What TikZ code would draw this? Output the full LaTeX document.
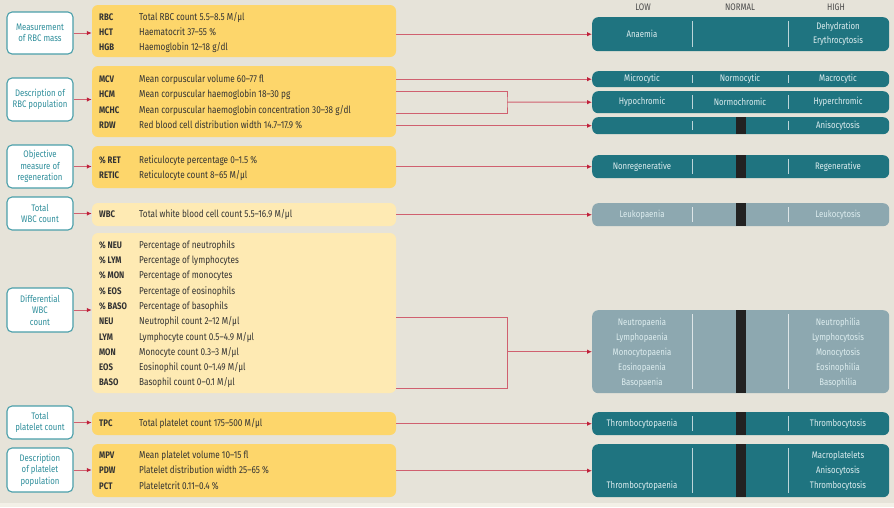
\documentclass[tikz,border=0pt]{standalone}
\usepackage{fontspec}
\setmainfont[FakeStretch=0.82]{Fira Sans}
\usetikzlibrary{arrows.meta}

\definecolor{paper}{HTML}{E6E3D9}
\definecolor{paperlight}{HTML}{F3F0E7}
\definecolor{labelteal}{HTML}{4A9FAA}
\definecolor{labeltext}{HTML}{2E8E9B}
\definecolor{gold}{HTML}{FDD66B}
\definecolor{paleyellow}{HTML}{FEEAB3}
\definecolor{resteal}{HTML}{1F7480}
\definecolor{resgrey}{HTML}{8DA8B0}
\definecolor{linkred}{HTML}{D0606F}
\definecolor{tipred}{HTML}{C0203A}
\definecolor{barblack}{HTML}{222222}
\definecolor{inkdark}{HTML}{333333}
\definecolor{headgrey}{HTML}{4A4A4A}
\definecolor{reswhite}{HTML}{DDEDEF}

\tikzset{
  labelbox/.style={draw=labelteal, line width=1.1pt, fill=white, rounded corners=5pt,
    text=labeltext, align=center, inner sep=0pt, minimum width=66pt,
    font=\fontsize{9.5}{11.5}\selectfont},
  databox/.style={fill=#1, rounded corners=6pt, minimum width=304pt, inner sep=0pt},
  resbox/.style={rounded corners=6pt, minimum width=297pt, inner sep=0pt},
  abbr/.style={anchor=west, inner sep=0pt, text height=7pt, text depth=0pt,
    text=inkdark, font=\fontsize{9.5}{11}\selectfont\bfseries},
  desc/.style={anchor=west, inner sep=0pt, text height=7pt, text depth=0pt,
    text=inkdark, font=\fontsize{10}{12}\selectfont},
  restext/.style={inner sep=0pt, align=center, text=reswhite,
    font=\fontsize{9.5}{15}\selectfont},
  head/.style={inner sep=0pt, text=headgrey, font=\fontsize{9.5}{11}\selectfont},
  divider/.style={draw=white, opacity=0.7, line width=0.8pt},
  linkline/.style={draw=linkred, line width=1pt},
  link/.style={linkline, -{Latex[length=5pt,width=4.5pt,color=tipred]}}
}

% name, top, bottom, colour
\newcommand{\resrow}[4]{%
  \node[resbox, fill=#4, minimum height=#3-#2, anchor=north west] (#1) at (592,#2) {};
  \draw[divider] (692,#2+4) -- (692,#3-4);
  \draw[divider] (788,#2+4) -- (788,#3-4);
}

\begin{document}
\begin{tikzpicture}[x=1pt, y=-1pt]
  \useasboundingbox (0,0) rectangle (894,507);
  \fill[paper] (0,0) rectangle (894,507);
  \fill[paperlight] (0,503) rectangle (894,507);

  % left labels
  \node[labelbox, minimum height=42pt] (massl) at (40,33) {Measurement\\of RBC mass};
  \node[labelbox, minimum height=43pt] (popl) at (40,99.5) {Description of\\RBC population};
  \node[labelbox, minimum height=43pt] (regenl) at (40,166.5) {Objective\\measure of\\regeneration};
  \node[labelbox, minimum height=33pt] (wbcl) at (40,213.5) {Total\\WBC count};
  \node[labelbox, minimum height=44pt] (diffl) at (40,310) {Differential\\WBC\\count};
  \node[labelbox, minimum height=33pt] (tpcl) at (40,422.5) {Total\\platelet count};
  \node[labelbox, minimum height=44pt] (pltl) at (40,470) {Description\\of platelet\\population};

  % measured values
  \node[databox=gold, minimum height=52pt] (rbcbox) at (244,31) {};
  \node[databox=gold, minimum height=71pt] (popbox) at (244,101.5) {};
  \node[databox=gold, minimum height=42pt] (regenbox) at (244,167) {};
  \node[databox=paleyellow, minimum height=23pt] (wbcbox) at (244,214.5) {};
  \node[databox=paleyellow, minimum height=160pt] (diffbox) at (244,313) {};
  \node[databox=gold, minimum height=23pt] (tpcbox) at (244,423.5) {};
  \node[databox=gold, minimum height=53pt] (pltbox) at (244,470.5) {};

  \foreach \n/\y/\ab/\txt in {
      rbc/17/RBC/{Total RBC count 5.5–8.5 M/µl},
      hct/32/HCT/{Haematocrit 37–55 \%},
      hgb/47/HGB/{Haemoglobin 12–18 g/dl},
      mcv/79/MCV/{Mean corpuscular volume 60–77 fl},
      hcm/94/HCM/{Mean corpuscular haemoglobin 18–30 pg},
      mchc/110/MCHC/{Mean corpuscular haemoglobin concentration 30–38 g/dl},
      rdw/125/RDW/{Red blood cell distribution width 14.7–17.9 \%},
      pret/160/{\% RET}/{Reticulocyte percentage 0–1.5 \%},
      retic/175/RETIC/{Reticulocyte count 8–65 M/µl},
      wbc/214/WBC/{Total white blood cell count 5.5–16.9 M/µl},
      pneu/245/{\% NEU}/{Percentage of neutrophils},
      plym/260/{\% LYM}/{Percentage of lymphocytes},
      pmon/275/{\% MON}/{Percentage of monocytes},
      peos/291/{\% EOS}/{Percentage of eosinophils},
      pbaso/306/{\% BASO}/{Percentage of basophils},
      neu/321/NEU/{Neutrophil count 2–12 M/µl},
      lym/337/LYM/{Lymphocyte count 0.5–4.9 M/µl},
      mon/352/MON/{Monocyte count 0.3–3 M/µl},
      eos/367/EOS/{Eosinophil count 0–1.49 M/µl},
      baso/382/BASO/{Basophil count 0–0.1 M/µl},
      tpc/423/TPC/{Total platelet count 175–500 M/µl},
      mpv/455/MPV/{Mean platelet volume 10–15 fl},
      pdw/470/PDW/{Platelet distribution width 25–65 \%},
      pct/486/PCT/{Plateletcrit 0.11–0.4 \%}} {
    \node[abbr] (\n) at (99,\y) {\ab};
    \node[desc] (\n-txt) at (139,\y) {\txt};
  }

  % interpretation bars
  \node[head] (lowh) at (643,7) {LOW};
  \node[head] (normh) at (740,7) {NORMAL};
  \node[head] (highh) at (836,7) {HIGH};

  \resrow{massres}{17}{51}{resteal}
  \resrow{cyticres}{71}{87}{resteal}
  \resrow{chromres}{91}{113}{resteal}
  \resrow{rdwres}{117}{134}{resteal}
  \resrow{regenres}{155}{178}{resteal}
  \resrow{wbcres}{203}{226}{resgrey}
  \resrow{diffres}{310}{393}{resgrey}
  \resrow{tpcres}{412}{435}{resteal}
  \resrow{pltres}{444}{497}{resteal}

  \foreach \r in {rdwres,regenres,wbcres,diffres,tpcres,pltres}
    \fill[barblack] ([xshift=-5pt]\r.north) rectangle ([xshift=5pt]\r.south);

  \node[restext] (anaemia) at (642,34) {Anaemia};
  \node[restext] (dehyd) at (838,34) {Dehydration\\[-1pt]Erythrocytosis};
  \node[restext] (microc) at (642,79) {Microcytic};
  \node[restext] (normoc) at (740,79) {Normocytic};
  \node[restext] (macroc) at (838,79) {Macrocytic};
  \node[restext] (hypoc) at (642,102) {Hypochromic};
  \node[restext] (normochr) at (740,102) {Normochromic};
  \node[restext] (hyperc) at (838,102) {Hyperchromic};
  \node[restext] (aniso) at (838,125.5) {Anisocytosis};
  \node[restext] (nonregen) at (642,166.5) {Nonregenerative};
  \node[restext] (regen) at (838,166.5) {Regenerative};
  \node[restext] (leukop) at (642,214.5) {Leukopaenia};
  \node[restext] (leukoc) at (838,214.5) {Leukocytosis};
  \node[restext] (diffpaenia) at (642,352.5)
    {Neutropaenia\\Lymphopaenia\\Monocytopaenia\\Eosinopaenia\\Basopaenia};
  \node[restext] (diffphilia) at (838,352.5)
    {Neutrophilia\\Lymphocytosis\\Monocytosis\\Eosinophilia\\Basophilia};
  \node[restext] (thrombop) at (642,423.5) {Thrombocytopaenia};
  \node[restext] (thromboc) at (838,423.5) {Thrombocytosis};
  \node[restext] (pltlow) at (642,486) {Thrombocytopaenia};
  \node[restext] (plthigh) at (838,470.5) {Macroplatelets\\Anisocytosis\\Thrombocytosis};

  % label -> values
  \foreach \l/\b in {massl/rbcbox, popl/popbox, regenl/regenbox, wbcl/wbcbox,
      diffl/diffbox, tpcl/tpcbox, pltl/pltbox}
    \draw[link] (\l.east) -- (\l.east -| \b.west);

  % values -> interpretation
  \draw[link] (rbcbox.east |- massres.west) -- (massres.west);
  \draw[link] (popbox.east |- cyticres.west) -- (cyticres.west);
  \coordinate (popjoin) at (507,102);
  \draw[linkline] (popbox.east |- chromres.north) -| (popjoin) |- (popbox.east |- chromres.south);
  \draw[link] (popjoin) -- (chromres.west);
  \draw[link] (popbox.east |- rdwres.west) -- (rdwres.west);
  \draw[link] (regenbox.east |- regenres.west) -- (regenres.west);
  \draw[link] (wbcbox.east |- wbcres.west) -- (wbcres.west);
  \coordinate (difftop) at (507,317);
  \coordinate (diffbot) at (507,388);
  \draw[linkline] (diffbox.east |- difftop) -- (difftop) -- (diffbot) -- (diffbox.east |- diffbot);
  \draw[link] (difftop |- diffres.west) -- (diffres.west);
  \draw[link] (tpcbox.east |- tpcres.west) -- (tpcres.west);
  \draw[link] (pltbox.east |- pltres.west) -- (pltres.west);
\end{tikzpicture}
\end{document}
